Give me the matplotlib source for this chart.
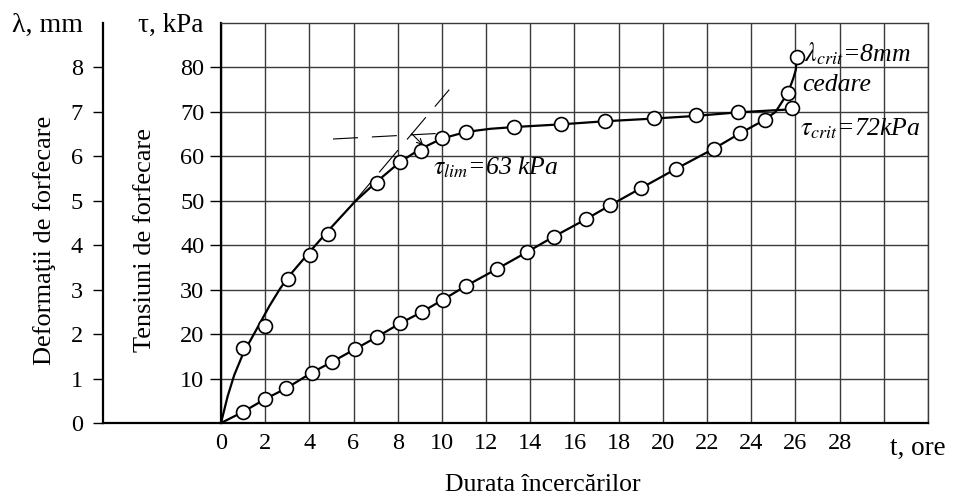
import matplotlib
matplotlib.use("Agg")
from matplotlib import pyplot as plt
from matplotlib.lines import Line2D

plt.rcParams['font.family'] = ['Liberation Serif', 'DejaVu Serif']
plt.rcParams['mathtext.fontset'] = 'stix'
plt.rcParams['lines.scale_dashes'] = False

# tensiuni de forfecare, kPa - puncte masurate
t_tau = [1.0, 2.0, 3.05, 4.03, 4.86, 7.07, 8.1, 9.05, 10.02, 11.1, 13.27, 15.4, 17.4, 19.6, 21.5, 23.4, 25.85]
tau = [16.8, 21.8, 32.4, 37.8, 42.6, 54.0, 58.8, 61.3, 64.2, 65.5, 66.6, 67.3, 68.0, 68.7, 69.2, 70.0, 70.8]

# curba trasata
t_tau_curve = [0, 0.3, 0.6, 1.0, 1.6, 2.2, 2.67, 3.05, 4.03, 4.86, 6.06, 7.07, 8.1, 9.0, 10.0, 11.1, 12.2, 13.3, 15.4, 17.4, 19.6, 21.5, 23.4, 25.9]
tau_curve = [0, 6.0, 10.8, 15.6, 21.0, 26.4, 30.2, 32.9, 38.6, 43.3, 49.8, 54.4, 58.7, 61.6, 64.0, 65.5, 66.2, 66.6, 67.2, 67.9, 68.5, 69.1, 69.9, 70.6]

# deformatii de forfecare, mm - puncte masurate
t_lam = [1.0, 2.0, 2.95, 4.1, 5.04, 6.06, 7.07, 8.1, 9.1, 10.03, 11.07, 12.47, 13.83, 15.05, 16.5, 17.62, 19.03, 20.6, 22.3, 23.5, 24.6, 25.66, 26.05]
lam = [0.25, 0.54, 0.78, 1.13, 1.38, 1.66, 1.94, 2.24, 2.5, 2.77, 3.08, 3.46, 3.84, 4.19, 4.58, 4.9, 5.29, 5.72, 6.17, 6.52, 6.82, 7.43, 8.23]

t_lam_curve = [0, 1.0, 2.0, 2.95, 4.1, 5.04, 6.06, 7.07, 8.1, 9.1, 10.03, 11.07, 12.47, 13.83, 15.05, 16.5, 17.62, 19.03, 20.6, 22.3, 23.5, 24.6, 25.1, 25.66, 25.9, 26.02, 26.05]
lam_curve = [0, 0.25, 0.54, 0.78, 1.13, 1.38, 1.66, 1.94, 2.24, 2.5, 2.77, 3.08, 3.46, 3.84, 4.19, 4.58, 4.9, 5.29, 5.72, 6.17, 6.52, 6.82, 7.0, 7.43, 7.75, 7.95, 8.23]

# tangente pentru tau_lim
tg1_t = [5.9, 10.33]
tg1_v = [49.0, 75.0]
tg2_t = [5.07, 10.0]
tg2_v = [63.9, 65.2]

x_ticks = list(range(0, 33, 2))
x_labels = [str(v) if v <= 28 else '' for v in x_ticks]
tau_ticks = list(range(10, 81, 10))
lam_ticks = list(range(0, 9))

W, H = 970, 499
fig = plt.figure(figsize=(W / 100, H / 100), dpi=100)
ax = fig.add_axes([221 / W, 76 / H, 707 / W, 400 / H])
ax.set_xlim(0, 32)
ax.set_ylim(0, 90)

grid_c = '#3a3a3a'
ax.set_xticks(x_ticks)
ax.set_xticklabels(x_labels)
ax.set_yticks(tau_ticks)
ax.grid(True, color=grid_c, lw=1.0)
ax.set_axisbelow(True)
ax.tick_params(axis='x', length=0, pad=7, labelsize=17.5)
ax.tick_params(axis='y', length=8, width=1.0, pad=4, labelsize=17.5, direction='out')
for s in ['top', 'right']:
    ax.spines[s].set_color(grid_c)
    ax.spines[s].set_linewidth(1.0)
for s in ['left', 'bottom']:
    ax.spines[s].set_linewidth(1.6)
    ax.spines[s].set_color('black')

# axa pentru deformatii
axl = ax.twinx()
axl.set_ylim(0, 9)
axl.set_yticks(lam_ticks)
axl.yaxis.tick_left()
for s in ['top', 'right', 'bottom']:
    axl.spines[s].set_visible(False)
axl.spines['left'].set_visible(True)
axl.spines['left'].set_position(('outward', 118 * 0.72))
axl.spines['left'].set_linewidth(1.6)
axl.tick_params(axis='y', length=7.5, width=1.0, pad=7, labelsize=17.5, direction='out')

fig.add_artist(Line2D([103 / W, 221 / W], [76 / H, 76 / H], color='black', lw=1.6))

mk = dict(marker='o', ms=10, mfc='white', mec='black', mew=1.2, ls='none', zorder=5)

ax.plot(t_tau_curve, tau_curve, color='black', lw=1.6, zorder=4)
ax.plot(t_tau, tau, **mk)
axl.plot(t_lam_curve, lam_curve, color='black', lw=1.6, zorder=4)
axl.plot(t_lam, lam, **mk)

ax.plot(tg1_t, tg1_v, color='black', lw=0.8, dashes=(21, 10), zorder=3)
ax.plot(tg2_t, tg2_v, color='black', lw=0.8, dashes=(18, 10), zorder=3)
ax.annotate('', xy=(9.15, 62.5), xytext=(8.63, 65.1),
            arrowprops=dict(arrowstyle='->', lw=0.8, color='black', shrinkA=0, shrinkB=0))

ax.text(26.4, 83.1, r'$\lambda_{crit}$=8mm', fontsize=18.5, style='italic', va='center', ha='left')
ax.text(26.3, 76.0, 'cedare', fontsize=18.5, style='italic', va='center', ha='left')
ax.text(26.2, 66.3, r'$\tau_{crit}$=72kPa', fontsize=18.5, style='italic', va='center', ha='left')
ax.text(9.6, 57.5, r'$\tau_{lim}$=63 kPa', fontsize=18.5, style='italic', va='center', ha='left')

ax.text(30.3, -0.0625, 't, ore', transform=ax.get_xaxis_transform(), fontsize=19.5, va='center', ha='left')

fig.text(83 / W, 1 - 25 / H, 'λ, mm', fontsize=20, ha='right', va='center')
fig.text(203 / W, 1 - 25 / H, 'τ, kPa', fontsize=19.5, ha='right', va='center')
fig.text(45 / W, 1 - 240 / H, 'Deformaţii de forfecare', fontsize=19, rotation=90, ha='center', va='center')
fig.text(145 / W, 1 - 240 / H, 'Tensiuni de forfecare', fontsize=19, rotation=90, ha='center', va='center')
fig.text(543 / W, 1 - 485 / H, 'Durata încercărilor', fontsize=18.5, ha='center', va='center')

fig.savefig('out.png', dpi=100)
